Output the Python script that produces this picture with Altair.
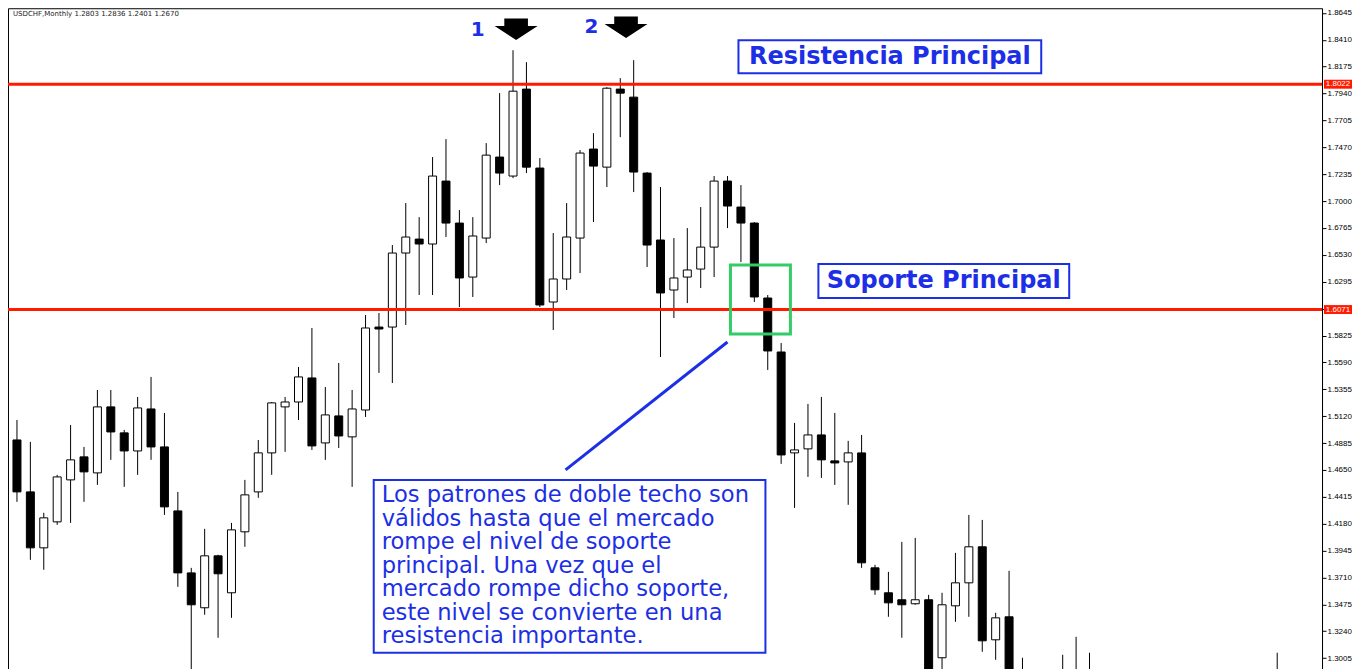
import altair as alt
import pandas as pd

# ---- candle data (USDCHF monthly) ----
idx = [1, 2, 3, 4, 5, 6, 7, 8, 9, 10, 11, 12, 13, 14, 15, 16, 17, 18, 19, 20,
       21, 22, 23, 24, 25, 26, 27, 28, 29, 30, 31, 32, 33, 34, 35, 36, 37, 38, 39, 40,
       41, 42, 43, 44, 45, 46, 47, 48, 49, 50, 51, 52, 53, 54, 55, 56, 57, 58, 59, 60,
       61, 62, 63, 64, 65, 66, 67, 68, 69, 70, 71, 72, 73, 74, 75, 76, 79, 80, 81, 95]
opens = [1.4912, 1.4458, 1.3969, 1.4196, 1.4563, 1.4764, 1.4624, 1.5201, 1.4974, 1.4816,
         1.5183, 1.4851, 1.4292, 1.3750, 1.3445, 1.3899, 1.3576, 1.4109, 1.4458, 1.4799,
         1.5201, 1.5244, 1.5454, 1.4886, 1.5122, 1.4939, 1.5174, 1.5899, 1.5899, 1.6546,
         1.6668, 1.6625, 1.7175, 1.6808, 1.6336, 1.6677, 1.7385, 1.7219, 1.7979, 1.7289,
         1.6118, 1.6319, 1.6677, 1.7455, 1.7297, 1.7979, 1.7909, 1.7245, 1.6660, 1.6223,
         1.6336, 1.6406, 1.6598, 1.7175, 1.6948, 1.6808, 1.6153, 1.5681, 1.4799, 1.4834,
         1.4956, 1.4729, 1.4720, 1.4799, 1.3794, 1.3576, 1.3515, 1.3480, 1.3515, 1.3008,
         1.3462, 1.3663, 1.3978, 1.3165, 1.3366, 1.2760, 1.2850, 1.2845, 1.2840, 1.2850]
highs = [1.5087, 1.4895, 1.4275, 1.4607, 1.5043, 1.4851, 1.5349, 1.5349, 1.5000, 1.5288,
         1.5463, 1.5148, 1.4458, 1.3794, 1.4135, 1.3908, 1.4187, 1.4563, 1.4912, 1.5244,
         1.5288, 1.5550, 1.5891, 1.5375, 1.5585, 1.5349, 1.6004, 1.6022, 1.6616, 1.6983,
         1.6860, 1.7385, 1.7542, 1.6922, 1.6860, 1.7507, 1.7944, 1.8319, 1.8215, 1.7376,
         1.6721, 1.6983, 1.7446, 1.7594, 1.7996, 1.8075, 1.8232, 1.7254, 1.7123, 1.6677,
         1.6764, 1.6948, 1.7219, 1.7219, 1.7140, 1.6817, 1.6179, 1.5760, 1.5061, 1.5227,
         1.5288, 1.5148, 1.4904, 1.4956, 1.3820, 1.3759, 1.4021, 1.4056, 1.3558, 1.3576,
         1.3925, 1.4257, 1.4213, 1.3401, 1.3768, 1.3008, 1.3034, 1.3191, 1.3052, 1.3052]
lows = [1.4371, 1.3864, 1.3777, 1.4170, 1.4187, 1.4371, 1.4519, 1.4738, 1.4502, 1.4607,
        1.4738, 1.4257, 1.3628, 1.2860, 1.3384, 1.3183, 1.3357, 1.3978, 1.4406, 1.4607,
        1.4808, 1.5087, 1.4825, 1.4738, 1.4842, 1.4502, 1.5113, 1.5498, 1.5410, 1.5917,
        1.6179, 1.6179, 1.6686, 1.6074, 1.6162, 1.6633, 1.7140, 1.7201, 1.7245, 1.6074,
        1.5873, 1.6223, 1.6371, 1.6817, 1.7123, 1.7559, 1.7079, 1.6424, 1.5637, 1.5978,
        1.6109, 1.6240, 1.6336, 1.6764, 1.6467, 1.6118, 1.5524, 1.4703, 1.4318, 1.4589,
        1.4580, 1.4519, 1.4345, 1.3794, 1.3558, 1.3366, 1.3183, 1.3471, 1.2833, 1.2903,
        1.3322, 1.3366, 1.3060, 1.2990, 1.2700, 1.2620, 1.2700, 1.2700, 1.2750, 1.2700]
closes = [1.4458, 1.3969, 1.4231, 1.4589, 1.4738, 1.4633, 1.5201, 1.4982, 1.4816, 1.5192,
          1.4851, 1.4327, 1.3750, 1.3471, 1.3899, 1.3742, 1.4126, 1.4432, 1.4799, 1.5236,
          1.5244, 1.5463, 1.4860, 1.5131, 1.4947, 1.5183, 1.5891, 1.5882, 1.6546, 1.6686,
          1.6625, 1.7219, 1.6808, 1.6328, 1.6695, 1.7402, 1.7245, 1.7961, 1.7297, 1.6092,
          1.6319, 1.6686, 1.7420, 1.7306, 1.7987, 1.7944, 1.7254, 1.6616, 1.6197, 1.6328,
          1.6398, 1.6598, 1.7175, 1.6957, 1.6808, 1.6162, 1.5690, 1.4781, 1.4825, 1.4956,
          1.4738, 1.4711, 1.4799, 1.3838, 1.3602, 1.3488, 1.3471, 1.3515, 1.2842, 1.3471,
          1.3663, 1.3978, 1.3156, 1.3357, 1.2772, 1.2700, 1.2800, 1.2840, 1.2845, 1.2820]

tick_values = [1.3005, 1.3240, 1.3475, 1.3710, 1.3945, 1.4180, 1.4415, 1.4650, 1.4885,
               1.5120, 1.5355, 1.5590, 1.5825, 1.6060, 1.6295, 1.6530, 1.6765, 1.7000,
               1.7235, 1.7470, 1.7705, 1.7940, 1.8175, 1.8410, 1.8645]

levels = [1.8022, 1.6052]
level_labels = ["1.8022", "1.6071"]

header_text = "USDCHF,Monthly  1.2803 1.2836 1.2401 1.2670"
resist_text = "Resistencia Principal"
support_text = "Soporte Principal"
note_lines = [
    "Los patrones de doble techo son",
    "válidos hasta que el mercado",
    "rompe el nivel de soporte",
    "principal. Una vez que el",
    "mercado rompe dicho soporte,",
    "este nivel se convierte en una",
    "resistencia importante.",
]
peak_labels = ["1", "2"]

BLUE = "#1c2fe6"
RED = "#ff1a00"
GREEN = "#33cc66"

df = pd.DataFrame({"i": idx, "open": opens, "high": highs, "low": lows, "close": closes})
lv = pd.DataFrame({"level": levels, "label": level_labels})
one = pd.DataFrame({"k": [0]})

xs = alt.Scale(domain=[0.704, 97.97])
ys = alt.Scale(domain=[1.2807, 1.8686])

yaxis = alt.Axis(orient="right", values=tick_values, format=".4f", title=None,
                 grid=False, labelFontSize=8, labelFont="Liberation Sans",
                 labelColor="black", tickSize=4, tickColor="black",
                 domainColor="black", labelPadding=1, labelOverlap=False)

wicks = alt.Chart(df).mark_rule(color="black", strokeWidth=1, clip=True).encode(
    x=alt.X("i:Q", scale=xs, axis=None),
    y=alt.Y("low:Q", scale=ys, axis=yaxis),
    y2="high:Q",
)
bodies = alt.Chart(df).mark_bar(size=8, stroke="black", strokeWidth=1, clip=True).encode(
    x=alt.X("i:Q", scale=xs, axis=None),
    y=alt.Y("open:Q", scale=ys, axis=yaxis),
    y2="close:Q",
    fill=alt.condition("datum.close >= datum.open", alt.value("white"), alt.value("black")),
)

level_lines = alt.Chart(lv).mark_rule(color=RED, strokeWidth=3).encode(
    y=alt.Y("level:Q", scale=ys, axis=yaxis)
)
level_boxes = alt.Chart(lv).mark_point(
    shape="M-1,-0.32L1,-0.32L1,0.32L-1,0.32Z", size=784, filled=True,
    color=RED, opacity=1, strokeWidth=0
).encode(x=alt.value(1331), y=alt.Y("level:Q", scale=ys, axis=yaxis))
level_text = alt.Chart(lv).mark_text(
    color="white", fontSize=8, font="Liberation Sans", align="center", baseline="middle"
).encode(x=alt.value(1331), y=alt.Y("level:Q", scale=ys, axis=yaxis), text="label:N")

header = alt.Chart(one).mark_text(
    text=header_text, fontSize=7, font="DejaVu Sans", color="#222", align="left", baseline="middle"
).encode(x=alt.value(5), y=alt.value(6))

res_box = alt.Chart(one).mark_rect(fill="white", stroke=BLUE, strokeWidth=2).encode(
    x=alt.value(731), x2=alt.value(1034), y=alt.value(32), y2=alt.value(65))
res_txt = alt.Chart(one).mark_text(
    text=resist_text, font="DejaVu Sans", fontWeight="bold", fontSize=24,
    color=BLUE, align="center", baseline="middle"
).encode(x=alt.value(882.5), y=alt.value(49))

sup_box = alt.Chart(one).mark_rect(fill="white", stroke=BLUE, strokeWidth=2).encode(
    x=alt.value(811), x2=alt.value(1062), y=alt.value(256), y2=alt.value(290))
sup_txt = alt.Chart(one).mark_text(
    text=support_text, font="DejaVu Sans", fontWeight="bold", fontSize=24,
    color=BLUE, align="center", baseline="middle"
).encode(x=alt.value(936.5), y=alt.value(273))

green_box = alt.Chart(one).mark_rect(fill=None, stroke=GREEN, strokeWidth=3).encode(
    x=alt.value(723), x2=alt.value(783), y=alt.value(257), y2=alt.value(326))

pointer = alt.Chart(one).mark_rule(color=BLUE, strokeWidth=3).encode(
    x=alt.value(558), y=alt.value(462), x2=alt.value(720), y2=alt.value(334))

note_box = alt.Chart(one).mark_rect(fill="white", stroke=BLUE, strokeWidth=2).encode(
    x=alt.value(366), x2=alt.value(758), y=alt.value(472), y2=alt.value(645))
note_txt = alt.Chart(one).mark_text(
    text=note_lines, font="DejaVu Sans", fontSize=22.6, lineHeight=23.5,
    color=BLUE, align="left", baseline="top"
).encode(x=alt.value(374), y=alt.value(476.5))

arrow_shape = "M-0.55,-0.5L0.55,-0.5L0.55,-0.15L1,-0.15L0,0.5L-1,-0.15L-0.55,-0.15Z"
arrow1 = alt.Chart(one).mark_point(shape=arrow_shape, size=1849, filled=True, color="black",
                                   opacity=1, strokeWidth=0).encode(
    x=alt.value(508.5), y=alt.value(21))
arrow2 = alt.Chart(one).mark_point(shape=arrow_shape, size=1849, filled=True, color="black",
                                   opacity=1, strokeWidth=0).encode(
    x=alt.value(618.5), y=alt.value(19))
num1 = alt.Chart(one).mark_text(text=peak_labels[0], font="DejaVu Sans", fontWeight="bold",
                                fontSize=20, color=BLUE, align="center", baseline="middle").encode(
    x=alt.value(470), y=alt.value(22))
num2 = alt.Chart(one).mark_text(text=peak_labels[1], font="DejaVu Sans", fontWeight="bold",
                                fontSize=20, color=BLUE, align="center", baseline="middle").encode(
    x=alt.value(584), y=alt.value(19))

chart = alt.layer(
    wicks, bodies, level_lines, level_boxes, level_text, header,
    res_box, res_txt, sup_box, sup_txt, green_box, pointer, note_box, note_txt,
    arrow1, arrow2, num1, num2,
).properties(
    width=1315, height=673, autosize="none",
    padding={"left": 0, "top": 0, "right": 30, "bottom": 0},
    background="white",
).configure_view(stroke="black", strokeWidth=1)

chart.save("out.html", embed_options={"renderer": "svg", "actions": False})
